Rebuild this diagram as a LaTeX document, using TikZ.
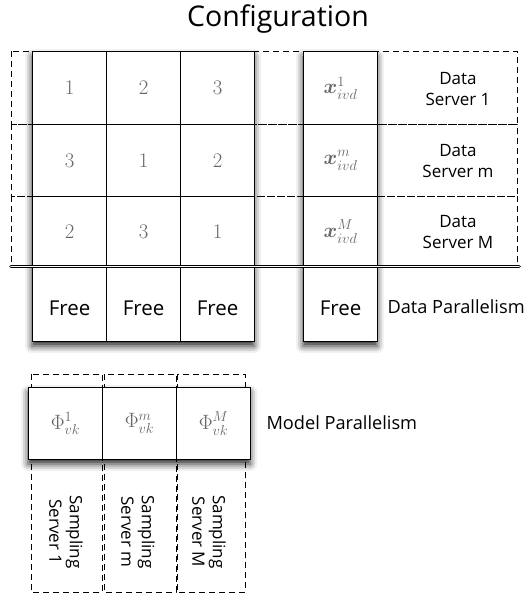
\documentclass[tikz,border=0pt]{standalone}
\usepackage{amsmath}
\usepackage{fontspec}
\setmainfont{Open Sans}
\usetikzlibrary{shadows.blur}
\begin{document}
\begin{tikzpicture}[x=1pt,y=-1pt,
  cell/.style={draw=black,line width=1.1pt,fill=white,minimum width=74pt,minimum height=72pt,inner sep=0pt,anchor=north west},
  num/.style={text=black!60,font=\fontsize{22}{22}\selectfont},
  free/.style={font=\fontsize{20.5}{20.5}\selectfont},
  srv/.style={align=center,font=\fontsize{17}{20.5}\selectfont},
  dbox/.style={draw=black,dash pattern=on 6pt off 4pt,line width=0.8pt},
  shade/.style={fill=white,blur shadow={shadow xshift=0pt,shadow yshift=-5pt,shadow blur radius=7pt,shadow opacity=85}},
  lbl/.style={font=\fontsize{18.2}{18.2}\selectfont,anchor=west}
]
\useasboundingbox (0,0) rectangle (531,594);
% title
\node[font=\fontsize{28.5}{28.5}\selectfont] (title) at (278,19) {Configuration};
% dashed data server rows
\draw[dbox] (11,51) rectangle (517,124);
\draw[dbox] (11,124) rectangle (517,196);
\draw[dbox] (11,196) rectangle (517,266);
% shadows of blocks
\path[shade] (32,51) rectangle (254,341);
\path[shade] (303,51) rectangle (377,341);
% left block cells
\node[cell,minimum height=73pt] (a11) at (32,51) {};
\node[cell,minimum height=73pt] (a12) at (106,51) {};
\node[cell,minimum height=73pt] (a13) at (180,51) {};
\node[cell] (a21) at (32,124) {};
\node[cell] (a22) at (106,124) {};
\node[cell] (a23) at (180,124) {};
\node[cell,minimum height=70pt] (a31) at (32,196) {};
\node[cell,minimum height=70pt] (a32) at (106,196) {};
\node[cell,minimum height=70pt] (a33) at (180,196) {};
\node[cell,minimum height=75pt] (f1) at (32,266) {};
\node[cell,minimum height=75pt] (f2) at (106,266) {};
\node[cell,minimum height=75pt] (f3) at (180,266) {};
% right column
\node[cell,minimum height=73pt] (x1) at (303,51) {};
\node[cell] (x2) at (303,124) {};
\node[cell,minimum height=70pt] (x3) at (303,196) {};
\node[cell,minimum height=75pt] (f4) at (303,266) {};
% contents
\node[num] at (a11.center) {$1$};
\node[num] at (a12.center) {$2$};
\node[num] at (a13.center) {$3$};
\node[num] at (a21.center) {$3$};
\node[num] at (a22.center) {$1$};
\node[num] at (a23.center) {$2$};
\node[num] at (a31.center) {$2$};
\node[num] at (a32.center) {$3$};
\node[num] at (a33.center) {$1$};
\node[num] at (x1.center) {$\boldsymbol{x}_{ivd}^{1}$};
\node[num] at (x2.center) {$\boldsymbol{x}_{ivd}^{m}$};
\node[num] at (x3.center) {$\boldsymbol{x}_{ivd}^{M}$};
\node[free] at ([yshift=-4pt]f1.center) {Free};
\node[free] at ([yshift=-4pt]f2.center) {Free};
\node[free] at ([yshift=-4pt]f3.center) {Free};
\node[free] at ([yshift=-4pt]f4.center) {Free};
% server labels
\node[srv] (ds1) at (458,89) {Data\\Server 1};
\node[srv] (dsm) at (458,161) {Data\\Server m};
\node[srv] (dsM) at (458,232) {Data\\Server M};
% separator
\draw[double=white,double distance=1.6pt,line width=1pt,line cap=round] (11,266.5) -- (519,266.5);
\node[lbl] (dp) at (384,307) {Data Parallelism};
% model parallelism
\draw[dbox] (31,374) rectangle (102,592);
\draw[dbox] (104,374) rectangle (176,592);
\draw[dbox] (177,374) rectangle (245,592);
\path[shade] (28,387) rectangle (250,459);
\node[cell,minimum height=72pt] (p1) at (28,387) {};
\node[cell,minimum height=72pt] (p2) at (102,387) {};
\node[cell,minimum height=72pt] (p3) at (176,387) {};
\node[num] at (p1.center) {$\Phi_{vk}^{1}$};
\node[num] at (p2.center) {$\Phi_{vk}^{m}$};
\node[num] at (p3.center) {$\Phi_{vk}^{M}$};
\node[lbl] (mp) at (263,423) {Model Parallelism};
\node[srv,rotate=-90] (ss1) at (66,532) {Sampling\\Server 1};
\node[srv,rotate=-90] (ssm) at (138,532) {Sampling\\Server m};
\node[srv,rotate=-90] (ssM) at (209,532) {Sampling\\Server M};
\end{tikzpicture}
\end{document}
